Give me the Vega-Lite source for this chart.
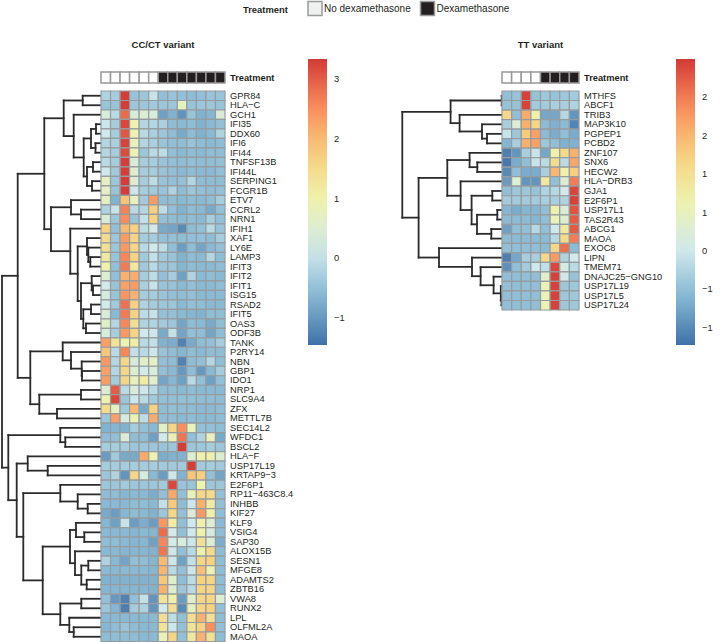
{"$schema":"https://vega.github.io/schema/vega-lite/v6.json","padding":0,"background":"white","spacing":0,"bounds":"flush","config":{"font":"Liberation Sans","view":{"stroke":null},"axis":{"labelColor":"#231f20","labelFontSize":9.3,"ticks":false,"domain":false,"grid":false,"title":null,"labelPadding":4.5,"labelOverlap":false,"labelBound":false},"legend":{"labelColor":"#231f20","titleColor":"#231f20"},"title":{"color":"#231f20","fontSize":9.5,"fontWeight":"bold","anchor":"middle","offset":22}},
"datasets":{"annL":[{"s":1,"a":"Treatment","t":"No"},{"s":2,"a":"Treatment","t":"No"},{"s":3,"a":"Treatment","t":"No"},{"s":4,"a":"Treatment","t":"No"},{"s":5,"a":"Treatment","t":"No"},{"s":6,"a":"Treatment","t":"No"},{"s":7,"a":"Treatment","t":"Dex"},{"s":8,"a":"Treatment","t":"Dex"},{"s":9,"a":"Treatment","t":"Dex"},{"s":10,"a":"Treatment","t":"Dex"},{"s":11,"a":"Treatment","t":"Dex"},{"s":12,"a":"Treatment","t":"Dex"},{"s":13,"a":"Treatment","t":"Dex"}],"annR":[{"s":1,"a":"Treatment","t":"No"},{"s":2,"a":"Treatment","t":"No"},{"s":3,"a":"Treatment","t":"No"},{"s":4,"a":"Treatment","t":"No"},{"s":5,"a":"Treatment","t":"Dex"},{"s":6,"a":"Treatment","t":"Dex"},{"s":7,"a":"Treatment","t":"Dex"},{"s":8,"a":"Treatment","t":"Dex"}],"blank":[{}]},
"vconcat":[
{"width":721,"height":71.5,"data":{"values":[{"t":"No dexamethasone"},{"t":"Dexamethasone"}]},"mark":{"type":"point","shape":"square","filled":true,"size":0,"opacity":1},"encoding":{"color":{"field":"t","type":"nominal","sort":null,"scale":{"domain":["No dexamethasone","Dexamethasone"],"range":["#eef1f0","#231f20"]},"legend":{"orient":"none","legendX":242,"legendY":0.5,"title":"Treatment","titleOrient":"left","titleFontSize":9.4,"titleFontWeight":"bold","titlePadding":19,"direction":"horizontal","columns":2,"columnPadding":6.5,"symbolType":"square","symbolSize":196,"symbolOpacity":1,"symbolStrokeWidth":1.5,"symbolStrokeColor":"#9a9a9a","labelFontSize":10,"labelOffset":1,"encoding":{"symbols":{"update":{"stroke":{"value":"#9a9a9a"},"strokeWidth":{"value":1.5},"opacity":{"value":1}}}}}}}},
{"columns":5,"spacing":{"row":8,"column":0},"bounds":"flush","align":"each","concat":[
{"width":100,"height":11,"data":{"name":"blank"},"mark":{"type":"rule","opacity":0},"encoding":{}},
{"width":124,"height":11,"title":"CC/CT variant","data":{"name":"annL"},"mark":{"type":"rect","stroke":"#999","strokeWidth":1.5},"encoding":{"x":{"field":"s","type":"ordinal","axis":null,"scale":{"padding":0}},"y":{"field":"a","type":"nominal","scale":{"padding":0},"axis":{"orient":"right","labelFontWeight":"bold"}},"fill":{"field":"t","type":"nominal","scale":{"domain":["No","Dex"],"range":["#ffffff","#231f20"]},"legend":null}}},
{"width":167,"height":11,"data":{"name":"blank"},"mark":{"type":"rule","opacity":0},"encoding":{}},
{"width":110,"height":11,"data":{"name":"blank"},"mark":{"type":"rule","opacity":0},"encoding":{}},
{"width":77,"height":11,"title":"TT variant","data":{"name":"annR"},"mark":{"type":"rect","stroke":"#999","strokeWidth":1.5},"encoding":{"x":{"field":"s","type":"ordinal","axis":null,"scale":{"padding":0}},"y":{"field":"a","type":"nominal","scale":{"padding":0},"axis":{"orient":"right","labelFontWeight":"bold"}},"fill":{"field":"t","type":"nominal","scale":{"domain":["No","Dex"],"range":["#ffffff","#231f20"]},"legend":null}}},
{"width":100,"height":550.5,"data":{"values":[
{"h":18.3,"y1":0.5,"c1":0,"y2":1.5,"c2":0},{"h":5,"y1":3.5,"c1":0,"y2":4.5,"c2":0},{"h":5.5,"y1":5.5,"c1":0,"y2":6.5,"c2":0},{"h":10,"y1":4,"c1":5,"y2":6,"c2":5.5},{"h":8,"y1":7.5,"c1":0,"y2":8.5,"c2":0},{"h":9,"y1":9.5,"c1":0,"y2":10.5,"c2":0},{"h":14,"y1":8,"c1":8,"y2":10,"c2":9},{"h":17.3,"y1":5,"c1":10,"y2":9,"c2":14},{"h":27.3,"y1":2.5,"c1":0,"y2":7,"c2":17.3},{"h":37.3,"y1":1,"c1":18.3,"y2":4.75,"c2":27.3},
{"h":20,"y1":12.5,"c1":0,"y2":13.5,"c2":0},{"h":30,"y1":11.5,"c1":0,"y2":13,"c2":20},{"h":10.7,"y1":17.5,"c1":0,"y2":18.5,"c2":0},{"h":12.7,"y1":16.5,"c1":0,"y2":18,"c2":10.7},{"h":14,"y1":15.5,"c1":0,"y2":17.25,"c2":12.7},{"h":8,"y1":20.5,"c1":0,"y2":21.5,"c2":0},{"h":9.3,"y1":19.5,"c1":0,"y2":21,"c2":8},{"h":10,"y1":22.5,"c1":0,"y2":23.5,"c2":0},{"h":15,"y1":24.5,"c1":0,"y2":25.5,"c2":0},{"h":17.7,"y1":23,"c1":10,"y2":25,"c2":15},{"h":20,"y1":20.25,"c1":9.3,"y2":24,"c2":17.7},{"h":23.3,"y1":16.375,"c1":14,"y2":22.125,"c2":20},{"h":30.7,"y1":14.5,"c1":0,"y2":19.25,"c2":23.3},{"h":50,"y1":12.25,"c1":30,"y2":16.875,"c2":30.7},{"h":56.7,"y1":2.875,"c1":37.3,"y2":14.56,"c2":50},
{"h":19,"y1":29.5,"c1":0,"y2":30.5,"c2":0},{"h":19.3,"y1":28.5,"c1":0,"y2":30,"c2":19},{"h":30,"y1":27.5,"c1":0,"y2":29.25,"c2":19.3},{"h":38.3,"y1":26.5,"c1":0,"y2":28.375,"c2":30},{"h":20,"y1":31.5,"c1":0,"y2":32.5,"c2":0},{"h":44,"y1":33.5,"c1":0,"y2":34.5,"c2":0},{"h":61.7,"y1":32,"c1":20,"y2":34,"c2":44},{"h":70.7,"y1":27.44,"c1":38.3,"y2":33,"c2":61.7},{"h":83.3,"y1":8.72,"c1":56.7,"y2":30.22,"c2":70.7},
{"h":35.7,"y1":36.5,"c1":0,"y2":37.5,"c2":0},{"h":40.7,"y1":35.5,"c1":0,"y2":37,"c2":35.7},{"h":53.3,"y1":39.5,"c1":0,"y2":40.5,"c2":0},{"h":73.3,"y1":38.5,"c1":0,"y2":40,"c2":53.3},{"h":13.3,"y1":43.5,"c1":0,"y2":44.5,"c2":0},{"h":23.3,"y1":42.5,"c1":0,"y2":44,"c2":13.3},{"h":40.7,"y1":41.5,"c1":0,"y2":43.25,"c2":23.3},{"h":16.7,"y1":46.5,"c1":0,"y2":47.5,"c2":0},{"h":25,"y1":45.5,"c1":0,"y2":47,"c2":16.7},{"h":12.7,"y1":49.5,"c1":0,"y2":50.5,"c2":0},{"h":14.3,"y1":51.5,"c1":0,"y2":52.5,"c2":0},{"h":19.7,"y1":50,"c1":12.7,"y2":52,"c2":14.3},{"h":26,"y1":48.5,"c1":0,"y2":51,"c2":19.7},{"h":31,"y1":46.25,"c1":25,"y2":49.75,"c2":26},{"h":19.7,"y1":53.5,"c1":0,"y2":54.5,"c2":0},{"h":27.3,"y1":56.5,"c1":0,"y2":57.5,"c2":0},{"h":31.7,"y1":55.5,"c1":0,"y2":57,"c2":27.3},{"h":40.7,"y1":54,"c1":19.7,"y2":56.25,"c2":31.7},{"h":58.3,"y1":48,"c1":31,"y2":55.125,"c2":40.7},{"h":77.7,"y1":42.375,"c1":40.7,"y2":51.56,"c2":58.3},{"h":84.3,"y1":39.25,"c1":73.3,"y2":46.97,"c2":77.7},{"h":92.7,"y1":36.25,"c1":40.7,"y2":43.11,"c2":84.3},{"h":99,"y1":19.47,"c1":83.3,"y2":39.68,"c2":92.7}]},
"layer":[{"mark":{"type":"rule","color":"#2b2a2c","strokeWidth":1.8,"strokeCap":"square"},"encoding":{"x":{"field":"h","type":"quantitative","scale":{"domain":[100,0]},"axis":null},"y":{"field":"y1","type":"quantitative","scale":{"domain":[58,0]},"axis":null},"y2":{"field":"y2"}}},{"mark":{"type":"rule","color":"#2b2a2c","strokeWidth":1.8,"strokeCap":"square"},"encoding":{"x":{"field":"h","type":"quantitative","scale":{"domain":[100,0]},"axis":null},"x2":{"field":"c1"},"y":{"field":"y1","type":"quantitative","scale":{"domain":[58,0]},"axis":null}}},{"mark":{"type":"rule","color":"#2b2a2c","strokeWidth":1.8,"strokeCap":"square"},"encoding":{"x":{"field":"h","type":"quantitative","scale":{"domain":[100,0]},"axis":null},"x2":{"field":"c2"},"y":{"field":"y2","type":"quantitative","scale":{"domain":[58,0]},"axis":null}}}]},
{"width":124,"height":550.5,"data":{"values":[
{"g":"GPR84","s":1,"v":-0.2},{"g":"GPR84","s":2,"v":-0.3},{"g":"GPR84","s":3,"v":3.3},{"g":"GPR84","s":4,"v":-0.45},{"g":"GPR84","s":5,"v":-0.4},{"g":"GPR84","s":6,"v":0.05},{"g":"GPR84","s":7,"v":-0.5},{"g":"GPR84","s":8,"v":-0.45},{"g":"GPR84","s":9,"v":-0.5},{"g":"GPR84","s":10,"v":-0.55},{"g":"GPR84","s":11,"v":-0.5},{"g":"GPR84","s":12,"v":-0.45},{"g":"GPR84","s":13,"v":-0.45},
{"g":"HLA−C","s":1,"v":-0.45},{"g":"HLA−C","s":2,"v":-0.45},{"g":"HLA−C","s":3,"v":3.3},{"g":"HLA−C","s":4,"v":-0.4},{"g":"HLA−C","s":5,"v":-0.4},{"g":"HLA−C","s":6,"v":-0.35},{"g":"HLA−C","s":7,"v":-0.4},{"g":"HLA−C","s":8,"v":-0.4},{"g":"HLA−C","s":9,"v":0.7},{"g":"HLA−C","s":10,"v":-0.45},{"g":"HLA−C","s":11,"v":-0.4},{"g":"HLA−C","s":12,"v":-0.4},{"g":"HLA−C","s":13,"v":-0.45},
{"g":"GCH1","s":1,"v":0.35},{"g":"GCH1","s":2,"v":-0.1},{"g":"GCH1","s":3,"v":2.85},{"g":"GCH1","s":4,"v":0.35},{"g":"GCH1","s":5,"v":0.45},{"g":"GCH1","s":6,"v":0.35},{"g":"GCH1","s":7,"v":-0.9},{"g":"GCH1","s":8,"v":-0.7},{"g":"GCH1","s":9,"v":-1.05},{"g":"GCH1","s":10,"v":-0.45},{"g":"GCH1","s":11,"v":-0.7},{"g":"GCH1","s":12,"v":-0.65},{"g":"GCH1","s":13,"v":0.4},
{"g":"IFI35","s":1,"v":0.1},{"g":"IFI35","s":2,"v":-0.3},{"g":"IFI35","s":3,"v":3.2},{"g":"IFI35","s":4,"v":0.9},{"g":"IFI35","s":5,"v":-0.15},{"g":"IFI35","s":6,"v":-0.15},{"g":"IFI35","s":7,"v":-0.25},{"g":"IFI35","s":8,"v":-0.55},{"g":"IFI35","s":9,"v":-0.6},{"g":"IFI35","s":10,"v":-0.55},{"g":"IFI35","s":11,"v":-0.7},{"g":"IFI35","s":12,"v":-0.6},{"g":"IFI35","s":13,"v":-0.5},
{"g":"DDX60","s":1,"v":0.15},{"g":"DDX60","s":2,"v":-0.3},{"g":"DDX60","s":3,"v":3.05},{"g":"DDX60","s":4,"v":0.9},{"g":"DDX60","s":5,"v":-0.1},{"g":"DDX60","s":6,"v":-0.25},{"g":"DDX60","s":7,"v":-0.4},{"g":"DDX60","s":8,"v":-0.55},{"g":"DDX60","s":9,"v":-0.8},{"g":"DDX60","s":10,"v":-0.55},{"g":"DDX60","s":11,"v":-0.7},{"g":"DDX60","s":12,"v":-0.6},{"g":"DDX60","s":13,"v":-0.2},
{"g":"IFI6","s":1,"v":-0.15},{"g":"IFI6","s":2,"v":-0.25},{"g":"IFI6","s":3,"v":3.25},{"g":"IFI6","s":4,"v":0.75},{"g":"IFI6","s":5,"v":-0.15},{"g":"IFI6","s":6,"v":-0.25},{"g":"IFI6","s":7,"v":-0.45},{"g":"IFI6","s":8,"v":-0.5},{"g":"IFI6","s":9,"v":-0.55},{"g":"IFI6","s":10,"v":-0.45},{"g":"IFI6","s":11,"v":-0.55},{"g":"IFI6","s":12,"v":-0.6},{"g":"IFI6","s":13,"v":-0.55},
{"g":"IFI44","s":1,"v":-0.15},{"g":"IFI44","s":2,"v":-0.3},{"g":"IFI44","s":3,"v":3.15},{"g":"IFI44","s":4,"v":0.85},{"g":"IFI44","s":5,"v":-0.4},{"g":"IFI44","s":6,"v":-0.1},{"g":"IFI44","s":7,"v":-0.05},{"g":"IFI44","s":8,"v":-0.5},{"g":"IFI44","s":9,"v":-0.6},{"g":"IFI44","s":10,"v":-0.55},{"g":"IFI44","s":11,"v":-0.6},{"g":"IFI44","s":12,"v":-0.55},{"g":"IFI44","s":13,"v":-0.55},
{"g":"TNFSF13B","s":1,"v":-0.1},{"g":"TNFSF13B","s":2,"v":-0.3},{"g":"TNFSF13B","s":3,"v":3.3},{"g":"TNFSF13B","s":4,"v":0.4},{"g":"TNFSF13B","s":5,"v":-0.3},{"g":"TNFSF13B","s":6,"v":-0.3},{"g":"TNFSF13B","s":7,"v":-0.45},{"g":"TNFSF13B","s":8,"v":-0.5},{"g":"TNFSF13B","s":9,"v":-0.55},{"g":"TNFSF13B","s":10,"v":-0.5},{"g":"TNFSF13B","s":11,"v":-0.55},{"g":"TNFSF13B","s":12,"v":-0.55},{"g":"TNFSF13B","s":13,"v":-0.5},
{"g":"IFI44L","s":1,"v":0.15},{"g":"IFI44L","s":2,"v":-0.35},{"g":"IFI44L","s":3,"v":3.3},{"g":"IFI44L","s":4,"v":0.5},{"g":"IFI44L","s":5,"v":-0.3},{"g":"IFI44L","s":6,"v":-0.3},{"g":"IFI44L","s":7,"v":-0.45},{"g":"IFI44L","s":8,"v":-0.5},{"g":"IFI44L","s":9,"v":-0.6},{"g":"IFI44L","s":10,"v":-0.55},{"g":"IFI44L","s":11,"v":-0.6},{"g":"IFI44L","s":12,"v":-0.6},{"g":"IFI44L","s":13,"v":-0.5},
{"g":"SERPING1","s":1,"v":0.7},{"g":"SERPING1","s":2,"v":-0.4},{"g":"SERPING1","s":3,"v":3.3},{"g":"SERPING1","s":4,"v":0.5},{"g":"SERPING1","s":5,"v":-0.3},{"g":"SERPING1","s":6,"v":-0.05},{"g":"SERPING1","s":7,"v":-0.45},{"g":"SERPING1","s":8,"v":-0.5},{"g":"SERPING1","s":9,"v":-0.5},{"g":"SERPING1","s":10,"v":-0.15},{"g":"SERPING1","s":11,"v":-0.55},{"g":"SERPING1","s":12,"v":-0.55},{"g":"SERPING1","s":13,"v":-0.55},
{"g":"FCGR1B","s":1,"v":0.65},{"g":"FCGR1B","s":2,"v":-0.45},{"g":"FCGR1B","s":3,"v":3.3},{"g":"FCGR1B","s":4,"v":0.1},{"g":"FCGR1B","s":5,"v":-0.3},{"g":"FCGR1B","s":6,"v":-0.35},{"g":"FCGR1B","s":7,"v":-0.45},{"g":"FCGR1B","s":8,"v":-0.2},{"g":"FCGR1B","s":9,"v":-0.55},{"g":"FCGR1B","s":10,"v":-0.4},{"g":"FCGR1B","s":11,"v":-0.5},{"g":"FCGR1B","s":12,"v":-0.55},{"g":"FCGR1B","s":13,"v":-0.5},
{"g":"ETV7","s":1,"v":0.7},{"g":"ETV7","s":2,"v":-0.7},{"g":"ETV7","s":3,"v":1.9},{"g":"ETV7","s":4,"v":0.75},{"g":"ETV7","s":5,"v":-0.35},{"g":"ETV7","s":6,"v":2.35},{"g":"ETV7","s":7,"v":-0.55},{"g":"ETV7","s":8,"v":-0.55},{"g":"ETV7","s":9,"v":-0.6},{"g":"ETV7","s":10,"v":-0.55},{"g":"ETV7","s":11,"v":-0.6},{"g":"ETV7","s":12,"v":-0.55},{"g":"ETV7","s":13,"v":-0.3},
{"g":"CCRL2","s":1,"v":-0.2},{"g":"CCRL2","s":2,"v":0.05},{"g":"CCRL2","s":3,"v":2.65},{"g":"CCRL2","s":4,"v":-0.1},{"g":"CCRL2","s":5,"v":-0.15},{"g":"CCRL2","s":6,"v":1.75},{"g":"CCRL2","s":7,"v":-0.05},{"g":"CCRL2","s":8,"v":-0.5},{"g":"CCRL2","s":9,"v":-0.7},{"g":"CCRL2","s":10,"v":-0.55},{"g":"CCRL2","s":11,"v":-0.6},{"g":"CCRL2","s":12,"v":-0.8},{"g":"CCRL2","s":13,"v":-0.5},
{"g":"NRN1","s":1,"v":0.4},{"g":"NRN1","s":2,"v":-0.4},{"g":"NRN1","s":3,"v":2.55},{"g":"NRN1","s":4,"v":-0.45},{"g":"NRN1","s":5,"v":0},{"g":"NRN1","s":6,"v":1.7},{"g":"NRN1","s":7,"v":-0.5},{"g":"NRN1","s":8,"v":-0.55},{"g":"NRN1","s":9,"v":-0.6},{"g":"NRN1","s":10,"v":-0.55},{"g":"NRN1","s":11,"v":-0.6},{"g":"NRN1","s":12,"v":-0.3},{"g":"NRN1","s":13,"v":-0.5},
{"g":"IFIH1","s":1,"v":1.7},{"g":"IFIH1","s":2,"v":-0.5},{"g":"IFIH1","s":3,"v":2},{"g":"IFIH1","s":4,"v":1.7},{"g":"IFIH1","s":5,"v":-0.05},{"g":"IFIH1","s":6,"v":0.2},{"g":"IFIH1","s":7,"v":-0.8},{"g":"IFIH1","s":8,"v":-0.85},{"g":"IFIH1","s":9,"v":-1.15},{"g":"IFIH1","s":10,"v":-0.55},{"g":"IFIH1","s":11,"v":-0.5},{"g":"IFIH1","s":12,"v":-0.1},{"g":"IFIH1","s":13,"v":-0.45},
{"g":"XAF1","s":1,"v":1.5},{"g":"XAF1","s":2,"v":-0.4},{"g":"XAF1","s":3,"v":2.35},{"g":"XAF1","s":4,"v":1.6},{"g":"XAF1","s":5,"v":-0.3},{"g":"XAF1","s":6,"v":-0.3},{"g":"XAF1","s":7,"v":-0.5},{"g":"XAF1","s":8,"v":-0.5},{"g":"XAF1","s":9,"v":-0.55},{"g":"XAF1","s":10,"v":-0.5},{"g":"XAF1","s":11,"v":-0.5},{"g":"XAF1","s":12,"v":-0.55},{"g":"XAF1","s":13,"v":-0.3},
{"g":"LY6E","s":1,"v":1.4},{"g":"LY6E","s":2,"v":-0.4},{"g":"LY6E","s":3,"v":2.4},{"g":"LY6E","s":4,"v":1.6},{"g":"LY6E","s":5,"v":-0.1},{"g":"LY6E","s":6,"v":0.15},{"g":"LY6E","s":7,"v":-0.05},{"g":"LY6E","s":8,"v":-0.5},{"g":"LY6E","s":9,"v":-0.95},{"g":"LY6E","s":10,"v":-0.55},{"g":"LY6E","s":11,"v":-0.85},{"g":"LY6E","s":12,"v":-0.6},{"g":"LY6E","s":13,"v":-0.5},
{"g":"LAMP3","s":1,"v":1.2},{"g":"LAMP3","s":2,"v":-0.45},{"g":"LAMP3","s":3,"v":2.6},{"g":"LAMP3","s":4,"v":1.7},{"g":"LAMP3","s":5,"v":-0.35},{"g":"LAMP3","s":6,"v":0},{"g":"LAMP3","s":7,"v":-0.35},{"g":"LAMP3","s":8,"v":-0.45},{"g":"LAMP3","s":9,"v":-0.7},{"g":"LAMP3","s":10,"v":-0.55},{"g":"LAMP3","s":11,"v":-0.6},{"g":"LAMP3","s":12,"v":-0.15},{"g":"LAMP3","s":13,"v":-0.55},
{"g":"IFIT3","s":1,"v":1},{"g":"IFIT3","s":2,"v":-0.5},{"g":"IFIT3","s":3,"v":2.7},{"g":"IFIT3","s":4,"v":1.2},{"g":"IFIT3","s":5,"v":-0.35},{"g":"IFIT3","s":6,"v":-0.1},{"g":"IFIT3","s":7,"v":-0.4},{"g":"IFIT3","s":8,"v":-0.4},{"g":"IFIT3","s":9,"v":-0.65},{"g":"IFIT3","s":10,"v":-0.55},{"g":"IFIT3","s":11,"v":-0.6},{"g":"IFIT3","s":12,"v":-0.6},{"g":"IFIT3","s":13,"v":-0.55},
{"g":"IFIT2","s":1,"v":0.5},{"g":"IFIT2","s":2,"v":-0.5},{"g":"IFIT2","s":3,"v":2.1},{"g":"IFIT2","s":4,"v":2.15},{"g":"IFIT2","s":5,"v":-0.3},{"g":"IFIT2","s":6,"v":-0.05},{"g":"IFIT2","s":7,"v":-0.5},{"g":"IFIT2","s":8,"v":-0.3},{"g":"IFIT2","s":9,"v":-0.9},{"g":"IFIT2","s":10,"v":-0.2},{"g":"IFIT2","s":11,"v":-0.6},{"g":"IFIT2","s":12,"v":-0.55},{"g":"IFIT2","s":13,"v":-0.6},
{"g":"IFIT1","s":1,"v":0.2},{"g":"IFIT1","s":2,"v":-0.45},{"g":"IFIT1","s":3,"v":2.3},{"g":"IFIT1","s":4,"v":2.35},{"g":"IFIT1","s":5,"v":-0.25},{"g":"IFIT1","s":6,"v":0.05},{"g":"IFIT1","s":7,"v":-0.45},{"g":"IFIT1","s":8,"v":-0.45},{"g":"IFIT1","s":9,"v":-0.6},{"g":"IFIT1","s":10,"v":-0.5},{"g":"IFIT1","s":11,"v":-0.6},{"g":"IFIT1","s":12,"v":-0.6},{"g":"IFIT1","s":13,"v":-0.55},
{"g":"ISG15","s":1,"v":0.3},{"g":"ISG15","s":2,"v":-0.45},{"g":"ISG15","s":3,"v":2.45},{"g":"ISG15","s":4,"v":2.1},{"g":"ISG15","s":5,"v":-0.3},{"g":"ISG15","s":6,"v":-0.3},{"g":"ISG15","s":7,"v":-0.45},{"g":"ISG15","s":8,"v":-0.5},{"g":"ISG15","s":9,"v":-0.55},{"g":"ISG15","s":10,"v":-0.5},{"g":"ISG15","s":11,"v":-0.6},{"g":"ISG15","s":12,"v":-0.6},{"g":"ISG15","s":13,"v":-0.6},
{"g":"RSAD2","s":1,"v":0.2},{"g":"RSAD2","s":2,"v":-0.35},{"g":"RSAD2","s":3,"v":2.8},{"g":"RSAD2","s":4,"v":1.7},{"g":"RSAD2","s":5,"v":-0.2},{"g":"RSAD2","s":6,"v":-0.3},{"g":"RSAD2","s":7,"v":-0.4},{"g":"RSAD2","s":8,"v":-0.4},{"g":"RSAD2","s":9,"v":-0.6},{"g":"RSAD2","s":10,"v":-0.5},{"g":"RSAD2","s":11,"v":-0.55},{"g":"RSAD2","s":12,"v":-0.6},{"g":"RSAD2","s":13,"v":-0.6},
{"g":"IFIT5","s":1,"v":0.4},{"g":"IFIT5","s":2,"v":-0.6},{"g":"IFIT5","s":3,"v":2.7},{"g":"IFIT5","s":4,"v":1.7},{"g":"IFIT5","s":5,"v":-0.05},{"g":"IFIT5","s":6,"v":0.05},{"g":"IFIT5","s":7,"v":-0.5},{"g":"IFIT5","s":8,"v":-0.5},{"g":"IFIT5","s":9,"v":-0.6},{"g":"IFIT5","s":10,"v":-0.65},{"g":"IFIT5","s":11,"v":-0.7},{"g":"IFIT5","s":12,"v":-0.55},{"g":"IFIT5","s":13,"v":-0.55},
{"g":"OAS3","s":1,"v":0.6},{"g":"OAS3","s":2,"v":-0.15},{"g":"OAS3","s":3,"v":2.6},{"g":"OAS3","s":4,"v":1.4},{"g":"OAS3","s":5,"v":-0.2},{"g":"OAS3","s":6,"v":-0.2},{"g":"OAS3","s":7,"v":-0.35},{"g":"OAS3","s":8,"v":-0.4},{"g":"OAS3","s":9,"v":-0.85},{"g":"OAS3","s":10,"v":-0.55},{"g":"OAS3","s":11,"v":-0.6},{"g":"OAS3","s":12,"v":-0.8},{"g":"OAS3","s":13,"v":-0.55},
{"g":"ODF3B","s":1,"v":0.35},{"g":"ODF3B","s":2,"v":-0.3},{"g":"ODF3B","s":3,"v":2.4},{"g":"ODF3B","s":4,"v":1.65},{"g":"ODF3B","s":5,"v":0.15},{"g":"ODF3B","s":6,"v":0.1},{"g":"ODF3B","s":7,"v":-0.8},{"g":"ODF3B","s":8,"v":0},{"g":"ODF3B","s":9,"v":-0.85},{"g":"ODF3B","s":10,"v":-0.5},{"g":"ODF3B","s":11,"v":-0.55},{"g":"ODF3B","s":12,"v":-0.85},{"g":"ODF3B","s":13,"v":-0.55},
{"g":"TANK","s":1,"v":2.3},{"g":"TANK","s":2,"v":1.3},{"g":"TANK","s":3,"v":0.9},{"g":"TANK","s":4,"v":1.1},{"g":"TANK","s":5,"v":-0.1},{"g":"TANK","s":6,"v":0},{"g":"TANK","s":7,"v":-0.7},{"g":"TANK","s":8,"v":-0.75},{"g":"TANK","s":9,"v":-1.25},{"g":"TANK","s":10,"v":-0.8},{"g":"TANK","s":11,"v":-0.55},{"g":"TANK","s":12,"v":-0.5},{"g":"TANK","s":13,"v":-0.3},
{"g":"P2RY14","s":1,"v":1.85},{"g":"P2RY14","s":2,"v":-0.1},{"g":"P2RY14","s":3,"v":2.6},{"g":"P2RY14","s":4,"v":0},{"g":"P2RY14","s":5,"v":-0.1},{"g":"P2RY14","s":6,"v":0.1},{"g":"P2RY14","s":7,"v":-0.45},{"g":"P2RY14","s":8,"v":-0.55},{"g":"P2RY14","s":9,"v":-0.65},{"g":"P2RY14","s":10,"v":-0.55},{"g":"P2RY14","s":11,"v":-0.6},{"g":"P2RY14","s":12,"v":-0.55},{"g":"P2RY14","s":13,"v":-0.55},
{"g":"NBN","s":1,"v":2.4},{"g":"NBN","s":2,"v":-0.15},{"g":"NBN","s":3,"v":1.6},{"g":"NBN","s":4,"v":0.3},{"g":"NBN","s":5,"v":0.6},{"g":"NBN","s":6,"v":0.65},{"g":"NBN","s":7,"v":-0.5},{"g":"NBN","s":8,"v":-0.55},{"g":"NBN","s":9,"v":-1.25},{"g":"NBN","s":10,"v":-0.55},{"g":"NBN","s":11,"v":-0.5},{"g":"NBN","s":12,"v":-0.15},{"g":"NBN","s":13,"v":-0.55},
{"g":"GBP1","s":1,"v":2.3},{"g":"GBP1","s":2,"v":-0.15},{"g":"GBP1","s":3,"v":1.6},{"g":"GBP1","s":4,"v":0.5},{"g":"GBP1","s":5,"v":0.2},{"g":"GBP1","s":6,"v":0.35},{"g":"GBP1","s":7,"v":-0.5},{"g":"GBP1","s":8,"v":-0.6},{"g":"GBP1","s":9,"v":-1},{"g":"GBP1","s":10,"v":-0.55},{"g":"GBP1","s":11,"v":-1},{"g":"GBP1","s":12,"v":-0.6},{"g":"GBP1","s":13,"v":-0.3},
{"g":"IDO1","s":1,"v":2.35},{"g":"IDO1","s":2,"v":-0.3},{"g":"IDO1","s":3,"v":1.6},{"g":"IDO1","s":4,"v":0.75},{"g":"IDO1","s":5,"v":1.1},{"g":"IDO1","s":6,"v":0.55},{"g":"IDO1","s":7,"v":-0.85},{"g":"IDO1","s":8,"v":-0.65},{"g":"IDO1","s":9,"v":-0.9},{"g":"IDO1","s":10,"v":-0.1},{"g":"IDO1","s":11,"v":-0.5},{"g":"IDO1","s":12,"v":-0.9},{"g":"IDO1","s":13,"v":-0.5},
{"g":"NRP1","s":1,"v":0.5},{"g":"NRP1","s":2,"v":3},{"g":"NRP1","s":3,"v":-0.1},{"g":"NRP1","s":4,"v":0.35},{"g":"NRP1","s":5,"v":0.1},{"g":"NRP1","s":6,"v":-0.1},{"g":"NRP1","s":7,"v":-0.55},{"g":"NRP1","s":8,"v":-0.55},{"g":"NRP1","s":9,"v":-0.6},{"g":"NRP1","s":10,"v":-0.55},{"g":"NRP1","s":11,"v":-0.6},{"g":"NRP1","s":12,"v":-0.6},{"g":"NRP1","s":13,"v":-0.6},
{"g":"SLC9A4","s":1,"v":0.9},{"g":"SLC9A4","s":2,"v":3.2},{"g":"SLC9A4","s":3,"v":-0.4},{"g":"SLC9A4","s":4,"v":0.1},{"g":"SLC9A4","s":5,"v":-0.1},{"g":"SLC9A4","s":6,"v":-0.35},{"g":"SLC9A4","s":7,"v":-0.5},{"g":"SLC9A4","s":8,"v":-0.5},{"g":"SLC9A4","s":9,"v":-0.5},{"g":"SLC9A4","s":10,"v":-0.5},{"g":"SLC9A4","s":11,"v":-0.55},{"g":"SLC9A4","s":12,"v":-0.55},{"g":"SLC9A4","s":13,"v":-0.55},
{"g":"ZFX","s":1,"v":1.5},{"g":"ZFX","s":2,"v":0.7},{"g":"ZFX","s":3,"v":-0.35},{"g":"ZFX","s":4,"v":2},{"g":"ZFX","s":5,"v":-0.8},{"g":"ZFX","s":6,"v":1.7},{"g":"ZFX","s":7,"v":-0.55},{"g":"ZFX","s":8,"v":-0.5},{"g":"ZFX","s":9,"v":-0.55},{"g":"ZFX","s":10,"v":-0.55},{"g":"ZFX","s":11,"v":-0.6},{"g":"ZFX","s":12,"v":-0.6},{"g":"ZFX","s":13,"v":-0.55},
{"g":"METTL7B","s":1,"v":-0.4},{"g":"METTL7B","s":2,"v":2.3},{"g":"METTL7B","s":3,"v":0.3},{"g":"METTL7B","s":4,"v":0.9},{"g":"METTL7B","s":5,"v":-0.05},{"g":"METTL7B","s":6,"v":2.15},{"g":"METTL7B","s":7,"v":-0.55},{"g":"METTL7B","s":8,"v":-0.55},{"g":"METTL7B","s":9,"v":-0.6},{"g":"METTL7B","s":10,"v":-0.55},{"g":"METTL7B","s":11,"v":-0.6},{"g":"METTL7B","s":12,"v":-0.6},{"g":"METTL7B","s":13,"v":-0.55},
{"g":"SEC14L2","s":1,"v":-0.7},{"g":"SEC14L2","s":2,"v":-0.65},{"g":"SEC14L2","s":3,"v":-0.7},{"g":"SEC14L2","s":4,"v":-0.3},{"g":"SEC14L2","s":5,"v":-0.5},{"g":"SEC14L2","s":6,"v":-0.6},{"g":"SEC14L2","s":7,"v":0.65},{"g":"SEC14L2","s":8,"v":1.6},{"g":"SEC14L2","s":9,"v":2.5},{"g":"SEC14L2","s":10,"v":0.85},{"g":"SEC14L2","s":11,"v":-0.5},{"g":"SEC14L2","s":12,"v":-0.5},{"g":"SEC14L2","s":13,"v":-0.55},
{"g":"WFDC1","s":1,"v":-0.55},{"g":"WFDC1","s":2,"v":-0.5},{"g":"WFDC1","s":3,"v":0.4},{"g":"WFDC1","s":4,"v":-0.55},{"g":"WFDC1","s":5,"v":-0.55},{"g":"WFDC1","s":6,"v":-0.9},{"g":"WFDC1","s":7,"v":0.2},{"g":"WFDC1","s":8,"v":0.8},{"g":"WFDC1","s":9,"v":2.75},{"g":"WFDC1","s":10,"v":-0.5},{"g":"WFDC1","s":11,"v":-0.2},{"g":"WFDC1","s":12,"v":0.8},{"g":"WFDC1","s":13,"v":-0.8},
{"g":"BSCL2","s":1,"v":-0.3},{"g":"BSCL2","s":2,"v":-0.3},{"g":"BSCL2","s":3,"v":-0.3},{"g":"BSCL2","s":4,"v":-0.4},{"g":"BSCL2","s":5,"v":-0.4},{"g":"BSCL2","s":6,"v":-0.4},{"g":"BSCL2","s":7,"v":-0.45},{"g":"BSCL2","s":8,"v":-0.4},{"g":"BSCL2","s":9,"v":3.3},{"g":"BSCL2","s":10,"v":-0.4},{"g":"BSCL2","s":11,"v":-0.4},{"g":"BSCL2","s":12,"v":-0.3},{"g":"BSCL2","s":13,"v":-0.4},
{"g":"HLA−F","s":1,"v":-0.95},{"g":"HLA−F","s":2,"v":-0.35},{"g":"HLA−F","s":3,"v":-0.8},{"g":"HLA−F","s":4,"v":-0.8},{"g":"HLA−F","s":5,"v":2.2},{"g":"HLA−F","s":6,"v":0.9},{"g":"HLA−F","s":7,"v":-0.75},{"g":"HLA−F","s":8,"v":-0.7},{"g":"HLA−F","s":9,"v":-0.7},{"g":"HLA−F","s":10,"v":0.5},{"g":"HLA−F","s":11,"v":1},{"g":"HLA−F","s":12,"v":1},{"g":"HLA−F","s":13,"v":0.5},
{"g":"USP17L19","s":1,"v":-0.3},{"g":"USP17L19","s":2,"v":-0.3},{"g":"USP17L19","s":3,"v":-0.3},{"g":"USP17L19","s":4,"v":-0.3},{"g":"USP17L19","s":5,"v":-0.3},{"g":"USP17L19","s":6,"v":-0.3},{"g":"USP17L19","s":7,"v":-0.35},{"g":"USP17L19","s":8,"v":-0.35},{"g":"USP17L19","s":9,"v":-0.35},{"g":"USP17L19","s":10,"v":3.3},{"g":"USP17L19","s":11,"v":-0.35},{"g":"USP17L19","s":12,"v":-0.3},{"g":"USP17L19","s":13,"v":-0.35},
{"g":"KRTAP9−3","s":1,"v":-0.4},{"g":"KRTAP9−3","s":2,"v":-0.2},{"g":"KRTAP9−3","s":3,"v":-1.05},{"g":"KRTAP9−3","s":4,"v":1.6},{"g":"KRTAP9−3","s":5,"v":0.3},{"g":"KRTAP9−3","s":6,"v":-0.6},{"g":"KRTAP9−3","s":7,"v":-0.95},{"g":"KRTAP9−3","s":8,"v":0.1},{"g":"KRTAP9−3","s":9,"v":-0.7},{"g":"KRTAP9−3","s":10,"v":1.85},{"g":"KRTAP9−3","s":11,"v":1.75},{"g":"KRTAP9−3","s":12,"v":-0.5},{"g":"KRTAP9−3","s":13,"v":-0.85},
{"g":"E2F6P1","s":1,"v":-0.4},{"g":"E2F6P1","s":2,"v":-0.4},{"g":"E2F6P1","s":3,"v":-0.35},{"g":"E2F6P1","s":4,"v":-0.4},{"g":"E2F6P1","s":5,"v":-0.4},{"g":"E2F6P1","s":6,"v":-0.4},{"g":"E2F6P1","s":7,"v":-0.35},{"g":"E2F6P1","s":8,"v":3.2},{"g":"E2F6P1","s":9,"v":-0.45},{"g":"E2F6P1","s":10,"v":-0.45},{"g":"E2F6P1","s":11,"v":0.95},{"g":"E2F6P1","s":12,"v":-0.4},{"g":"E2F6P1","s":13,"v":-0.4},
{"g":"RP11−463C8.4","s":1,"v":-0.55},{"g":"RP11−463C8.4","s":2,"v":-0.55},{"g":"RP11−463C8.4","s":3,"v":-0.65},{"g":"RP11−463C8.4","s":4,"v":-0.6},{"g":"RP11−463C8.4","s":5,"v":-0.6},{"g":"RP11−463C8.4","s":6,"v":-0.75},{"g":"RP11−463C8.4","s":7,"v":-0.5},{"g":"RP11−463C8.4","s":8,"v":2.2},{"g":"RP11−463C8.4","s":9,"v":-0.5},{"g":"RP11−463C8.4","s":10,"v":0.8},{"g":"RP11−463C8.4","s":11,"v":1.6},{"g":"RP11−463C8.4","s":12,"v":1.5},{"g":"RP11−463C8.4","s":13,"v":-0.5},
{"g":"INHBB","s":1,"v":-0.6},{"g":"INHBB","s":2,"v":-0.6},{"g":"INHBB","s":3,"v":-0.6},{"g":"INHBB","s":4,"v":-0.55},{"g":"INHBB","s":5,"v":-0.55},{"g":"INHBB","s":6,"v":-0.6},{"g":"INHBB","s":7,"v":0},{"g":"INHBB","s":8,"v":1.8},{"g":"INHBB","s":9,"v":-0.55},{"g":"INHBB","s":10,"v":0.1},{"g":"INHBB","s":11,"v":2.1},{"g":"INHBB","s":12,"v":1.1},{"g":"INHBB","s":13,"v":-0.5},
{"g":"KIF27","s":1,"v":-0.8},{"g":"KIF27","s":2,"v":-0.95},{"g":"KIF27","s":3,"v":-0.65},{"g":"KIF27","s":4,"v":-0.55},{"g":"KIF27","s":5,"v":-0.6},{"g":"KIF27","s":6,"v":-0.7},{"g":"KIF27","s":7,"v":-0.4},{"g":"KIF27","s":8,"v":1.6},{"g":"KIF27","s":9,"v":-0.5},{"g":"KIF27","s":10,"v":0.4},{"g":"KIF27","s":11,"v":2.4},{"g":"KIF27","s":12,"v":1},{"g":"KIF27","s":13,"v":-0.55},
{"g":"KLF9","s":1,"v":-0.65},{"g":"KLF9","s":2,"v":-0.9},{"g":"KLF9","s":3,"v":0.05},{"g":"KLF9","s":4,"v":-0.95},{"g":"KLF9","s":5,"v":-0.75},{"g":"KLF9","s":6,"v":-0.95},{"g":"KLF9","s":7,"v":2.4},{"g":"KLF9","s":8,"v":1.1},{"g":"KLF9","s":9,"v":-0.5},{"g":"KLF9","s":10,"v":0.15},{"g":"KLF9","s":11,"v":1},{"g":"KLF9","s":12,"v":0.5},{"g":"KLF9","s":13,"v":-0.6},
{"g":"VSIG4","s":1,"v":-0.6},{"g":"VSIG4","s":2,"v":-0.6},{"g":"VSIG4","s":3,"v":-0.6},{"g":"VSIG4","s":4,"v":-0.65},{"g":"VSIG4","s":5,"v":-0.6},{"g":"VSIG4","s":6,"v":-0.65},{"g":"VSIG4","s":7,"v":2.85},{"g":"VSIG4","s":8,"v":0.2},{"g":"VSIG4","s":9,"v":-0.5},{"g":"VSIG4","s":10,"v":0.15},{"g":"VSIG4","s":11,"v":1},{"g":"VSIG4","s":12,"v":0.3},{"g":"VSIG4","s":13,"v":-0.55},
{"g":"SAP30","s":1,"v":-0.55},{"g":"SAP30","s":2,"v":-0.55},{"g":"SAP30","s":3,"v":-0.6},{"g":"SAP30","s":4,"v":-0.65},{"g":"SAP30","s":5,"v":-0.65},{"g":"SAP30","s":6,"v":-0.9},{"g":"SAP30","s":7,"v":2.6},{"g":"SAP30","s":8,"v":0.2},{"g":"SAP30","s":9,"v":0.35},{"g":"SAP30","s":10,"v":0.1},{"g":"SAP30","s":11,"v":1.4},{"g":"SAP30","s":12,"v":0.45},{"g":"SAP30","s":13,"v":-0.75},
{"g":"ALOX15B","s":1,"v":-0.6},{"g":"ALOX15B","s":2,"v":-0.6},{"g":"ALOX15B","s":3,"v":-0.65},{"g":"ALOX15B","s":4,"v":-0.65},{"g":"ALOX15B","s":5,"v":-0.65},{"g":"ALOX15B","s":6,"v":-0.7},{"g":"ALOX15B","s":7,"v":2.75},{"g":"ALOX15B","s":8,"v":0.1},{"g":"ALOX15B","s":9,"v":-0.5},{"g":"ALOX15B","s":10,"v":-0.1},{"g":"ALOX15B","s":11,"v":1},{"g":"ALOX15B","s":12,"v":1.5},{"g":"ALOX15B","s":13,"v":-0.55},
{"g":"SESN1","s":1,"v":-0.2},{"g":"SESN1","s":2,"v":-0.6},{"g":"SESN1","s":3,"v":-0.85},{"g":"SESN1","s":4,"v":-0.5},{"g":"SESN1","s":5,"v":-0.55},{"g":"SESN1","s":6,"v":-0.65},{"g":"SESN1","s":7,"v":2},{"g":"SESN1","s":8,"v":0.1},{"g":"SESN1","s":9,"v":-0.9},{"g":"SESN1","s":10,"v":0},{"g":"SESN1","s":11,"v":1.6},{"g":"SESN1","s":12,"v":1.7},{"g":"SESN1","s":13,"v":-0.55},
{"g":"MFGE8","s":1,"v":-0.6},{"g":"MFGE8","s":2,"v":-0.6},{"g":"MFGE8","s":3,"v":-0.6},{"g":"MFGE8","s":4,"v":-0.6},{"g":"MFGE8","s":5,"v":-0.6},{"g":"MFGE8","s":6,"v":-0.65},{"g":"MFGE8","s":7,"v":2.05},{"g":"MFGE8","s":8,"v":-0.1},{"g":"MFGE8","s":9,"v":-0.5},{"g":"MFGE8","s":10,"v":0.1},{"g":"MFGE8","s":11,"v":1.95},{"g":"MFGE8","s":12,"v":0.9},{"g":"MFGE8","s":13,"v":-0.55},
{"g":"ADAMTS2","s":1,"v":-0.7},{"g":"ADAMTS2","s":2,"v":-0.7},{"g":"ADAMTS2","s":3,"v":-0.7},{"g":"ADAMTS2","s":4,"v":-0.7},{"g":"ADAMTS2","s":5,"v":-0.7},{"g":"ADAMTS2","s":6,"v":-0.7},{"g":"ADAMTS2","s":7,"v":1.85},{"g":"ADAMTS2","s":8,"v":0.55},{"g":"ADAMTS2","s":9,"v":-0.55},{"g":"ADAMTS2","s":10,"v":-0.05},{"g":"ADAMTS2","s":11,"v":1.7},{"g":"ADAMTS2","s":12,"v":1.6},{"g":"ADAMTS2","s":13,"v":-0.55},
{"g":"ZBTB16","s":1,"v":-0.65},{"g":"ZBTB16","s":2,"v":-0.65},{"g":"ZBTB16","s":3,"v":-0.65},{"g":"ZBTB16","s":4,"v":-0.65},{"g":"ZBTB16","s":5,"v":-0.65},{"g":"ZBTB16","s":6,"v":-0.7},{"g":"ZBTB16","s":7,"v":2.1},{"g":"ZBTB16","s":8,"v":0.5},{"g":"ZBTB16","s":9,"v":-0.4},{"g":"ZBTB16","s":10,"v":-0.1},{"g":"ZBTB16","s":11,"v":1.65},{"g":"ZBTB16","s":12,"v":1.6},{"g":"ZBTB16","s":13,"v":-0.55},
{"g":"VWA8","s":1,"v":-0.5},{"g":"VWA8","s":2,"v":-1},{"g":"VWA8","s":3,"v":-1.25},{"g":"VWA8","s":4,"v":-0.5},{"g":"VWA8","s":5,"v":0},{"g":"VWA8","s":6,"v":-1.05},{"g":"VWA8","s":7,"v":1.3},{"g":"VWA8","s":8,"v":1},{"g":"VWA8","s":9,"v":-0.95},{"g":"VWA8","s":10,"v":0.6},{"g":"VWA8","s":11,"v":1.6},{"g":"VWA8","s":12,"v":1.6},{"g":"VWA8","s":13,"v":0.5},
{"g":"RUNX2","s":1,"v":-0.4},{"g":"RUNX2","s":2,"v":-0.65},{"g":"RUNX2","s":3,"v":-1.3},{"g":"RUNX2","s":4,"v":-0.3},{"g":"RUNX2","s":5,"v":-0.2},{"g":"RUNX2","s":6,"v":-1.05},{"g":"RUNX2","s":7,"v":0.2},{"g":"RUNX2","s":8,"v":1.4},{"g":"RUNX2","s":9,"v":-1.15},{"g":"RUNX2","s":10,"v":0.7},{"g":"RUNX2","s":11,"v":1.6},{"g":"RUNX2","s":12,"v":1.7},{"g":"RUNX2","s":13,"v":-0.5},
{"g":"LPL","s":1,"v":-0.6},{"g":"LPL","s":2,"v":-0.6},{"g":"LPL","s":3,"v":-0.6},{"g":"LPL","s":4,"v":-0.6},{"g":"LPL","s":5,"v":-0.6},{"g":"LPL","s":6,"v":-0.6},{"g":"LPL","s":7,"v":1.4},{"g":"LPL","s":8,"v":-0.05},{"g":"LPL","s":9,"v":-0.5},{"g":"LPL","s":10,"v":1.4},{"g":"LPL","s":11,"v":2.1},{"g":"LPL","s":12,"v":1.4},{"g":"LPL","s":13,"v":-0.55},
{"g":"OLFML2A","s":1,"v":-0.65},{"g":"OLFML2A","s":2,"v":-0.55},{"g":"OLFML2A","s":3,"v":-0.45},{"g":"OLFML2A","s":4,"v":-0.55},{"g":"OLFML2A","s":5,"v":-0.6},{"g":"OLFML2A","s":6,"v":-0.6},{"g":"OLFML2A","s":7,"v":1.3},{"g":"OLFML2A","s":8,"v":0.1},{"g":"OLFML2A","s":9,"v":-0.5},{"g":"OLFML2A","s":10,"v":1.3},{"g":"OLFML2A","s":11,"v":1.7},{"g":"OLFML2A","s":12,"v":2.5},{"g":"OLFML2A","s":13,"v":-0.5},
{"g":"MAOA","s":1,"v":-0.55},{"g":"MAOA","s":2,"v":-0.55},{"g":"MAOA","s":3,"v":-0.55},{"g":"MAOA","s":4,"v":-0.55},{"g":"MAOA","s":5,"v":-0.6},{"g":"MAOA","s":6,"v":-0.6},{"g":"MAOA","s":7,"v":0.8},{"g":"MAOA","s":8,"v":1.6},{"g":"MAOA","s":9,"v":-0.5},{"g":"MAOA","s":10,"v":1.2},{"g":"MAOA","s":11,"v":2.1},{"g":"MAOA","s":12,"v":1.35},{"g":"MAOA","s":13,"v":-0.55}]},
"mark":{"type":"rect","stroke":"#979c9e","strokeWidth":1.2},"encoding":{"x":{"field":"s","type":"ordinal","axis":null,"scale":{"padding":0}},"y":{"field":"g","type":"nominal","sort":null,"scale":{"padding":0},"axis":{"orient":"right"}},"fill":{"field":"v","type":"quantitative","scale":{"domain":[-1.447,-0.65,0.147,0.944,1.74,2.54,3.335],"range":["#3f71a9","#84b7d3","#d0e9ec","#eef3ae","#f7d07e","#fa8c5c","#d33a36"],"interpolate":"rgb"},"legend":{"orient":"none","legendX":207,"legendY":-32,"title":null,"gradientLength":286,"gradientThickness":19,"values":[-1,0,1,2,3],"labelFontSize":9.3,"labelOffset":7,"gradientStrokeWidth":0}}}},
{"width":167,"height":11,"data":{"name":"blank"},"mark":{"type":"rule","opacity":0},"encoding":{}},
{"width":110,"height":219,"data":{"values":[
{"h":0.3,"y1":0.5,"c1":0,"y2":1.5,"c2":0},{"h":15,"y1":4.5,"c1":0,"y2":5.5,"c2":0},{"h":20,"y1":3.5,"c1":0,"y2":5,"c2":15},{"h":42.4,"y1":2.5,"c1":0,"y2":4.25,"c2":20},{"h":51.4,"y1":1,"c1":0.3,"y2":3.375,"c2":42.4},{"h":24.7,"y1":7.5,"c1":0,"y2":8.5,"c2":0},{"h":32.4,"y1":6.5,"c1":0,"y2":8,"c2":24.7},{"h":9.7,"y1":10.5,"c1":0,"y2":11.5,"c2":0},{"h":4.7,"y1":12.5,"c1":0,"y2":13.5,"c2":0},{"h":10.7,"y1":14.5,"c1":0,"y2":15.5,"c2":0},{"h":25,"y1":13,"c1":4.7,"y2":15,"c2":10.7},{"h":30.4,"y1":11,"c1":9.7,"y2":14,"c2":25},{"h":41.4,"y1":9.5,"c1":0,"y2":12.5,"c2":30.4},{"h":54.7,"y1":7.25,"c1":32.4,"y2":11,"c2":41.4},{"h":0.5,"y1":21.5,"c1":0,"y2":22.5,"c2":0},{"h":1.2,"y1":20.5,"c1":0,"y2":22,"c2":0.5},{"h":8.4,"y1":19.5,"c1":0,"y2":21.25,"c2":1.2},{"h":21.4,"y1":18.5,"c1":0,"y2":20.4,"c2":8.4},{"h":30,"y1":17.5,"c1":0,"y2":19.45,"c2":21.4},{"h":63,"y1":16.5,"c1":0,"y2":18.48,"c2":30},{"h":83.4,"y1":9.125,"c1":54.7,"y2":17.49,"c2":63},{"h":99.7,"y1":2.19,"c1":51.4,"y2":13.3,"c2":83.4}]},
"layer":[{"mark":{"type":"rule","color":"#2b2a2c","strokeWidth":1.8,"strokeCap":"square"},"encoding":{"x":{"field":"h","type":"quantitative","scale":{"domain":[110,0]},"axis":null},"y":{"field":"y1","type":"quantitative","scale":{"domain":[23,0]},"axis":null},"y2":{"field":"y2"}}},{"mark":{"type":"rule","color":"#2b2a2c","strokeWidth":1.8,"strokeCap":"square"},"encoding":{"x":{"field":"h","type":"quantitative","scale":{"domain":[110,0]},"axis":null},"x2":{"field":"c1"},"y":{"field":"y1","type":"quantitative","scale":{"domain":[23,0]},"axis":null}}},{"mark":{"type":"rule","color":"#2b2a2c","strokeWidth":1.8,"strokeCap":"square"},"encoding":{"x":{"field":"h","type":"quantitative","scale":{"domain":[110,0]},"axis":null},"x2":{"field":"c2"},"y":{"field":"y2","type":"quantitative","scale":{"domain":[23,0]},"axis":null}}}]},
{"width":77,"height":219,"data":{"values":[
{"g":"MTHFS","s":1,"v":-0.5},{"g":"MTHFS","s":2,"v":-0.45},{"g":"MTHFS","s":3,"v":2.45},{"g":"MTHFS","s":4,"v":-0.45},{"g":"MTHFS","s":5,"v":-0.4},{"g":"MTHFS","s":6,"v":-0.45},{"g":"MTHFS","s":7,"v":-0.4},{"g":"MTHFS","s":8,"v":-0.35},
{"g":"ABCF1","s":1,"v":-0.45},{"g":"ABCF1","s":2,"v":-0.45},{"g":"ABCF1","s":3,"v":2.45},{"g":"ABCF1","s":4,"v":-0.35},{"g":"ABCF1","s":5,"v":-0.35},{"g":"ABCF1","s":6,"v":-0.3},{"g":"ABCF1","s":7,"v":-0.3},{"g":"ABCF1","s":8,"v":-0.25},
{"g":"TRIB3","s":1,"v":1.1},{"g":"TRIB3","s":2,"v":-0.5},{"g":"TRIB3","s":3,"v":1.6},{"g":"TRIB3","s":4,"v":0.7},{"g":"TRIB3","s":5,"v":-0.75},{"g":"TRIB3","s":6,"v":-0.75},{"g":"TRIB3","s":7,"v":-0.2},{"g":"TRIB3","s":8,"v":-0.9},
{"g":"MAP3K10","s":1,"v":-0.3},{"g":"MAP3K10","s":2,"v":0.25},{"g":"MAP3K10","s":3,"v":1.55},{"g":"MAP3K10","s":4,"v":1.15},{"g":"MAP3K10","s":5,"v":-0.55},{"g":"MAP3K10","s":6,"v":-0.65},{"g":"MAP3K10","s":7,"v":-0.55},{"g":"MAP3K10","s":8,"v":-1.05},
{"g":"PGPEP1","s":1,"v":-0.05},{"g":"PGPEP1","s":2,"v":-0.4},{"g":"PGPEP1","s":3,"v":1.3},{"g":"PGPEP1","s":4,"v":1.7},{"g":"PGPEP1","s":5,"v":-0.55},{"g":"PGPEP1","s":6,"v":-0.7},{"g":"PGPEP1","s":7,"v":-0.5},{"g":"PGPEP1","s":8,"v":-0.7},
{"g":"PCBD2","s":1,"v":-0.6},{"g":"PCBD2","s":2,"v":-0.3},{"g":"PCBD2","s":3,"v":1.55},{"g":"PCBD2","s":4,"v":1.7},{"g":"PCBD2","s":5,"v":-0.4},{"g":"PCBD2","s":6,"v":-0.5},{"g":"PCBD2","s":7,"v":-0.65},{"g":"PCBD2","s":8,"v":-0.65},
{"g":"ZNF107","s":1,"v":-1.1},{"g":"ZNF107","s":2,"v":-0.9},{"g":"ZNF107","s":3,"v":-0.3},{"g":"ZNF107","s":4,"v":-0.05},{"g":"ZNF107","s":5,"v":-0.75},{"g":"ZNF107","s":6,"v":0.7},{"g":"ZNF107","s":7,"v":1.1},{"g":"ZNF107","s":8,"v":1.55},
{"g":"SNX6","s":1,"v":-1.15},{"g":"SNX6","s":2,"v":-0.7},{"g":"SNX6","s":3,"v":-0.5},{"g":"SNX6","s":4,"v":-0.05},{"g":"SNX6","s":5,"v":-0.15},{"g":"SNX6","s":6,"v":1.05},{"g":"SNX6","s":7,"v":-0.15},{"g":"SNX6","s":8,"v":1.65},
{"g":"HECW2","s":1,"v":-1},{"g":"HECW2","s":2,"v":-0.5},{"g":"HECW2","s":3,"v":-0.7},{"g":"HECW2","s":4,"v":-0.7},{"g":"HECW2","s":5,"v":-0.3},{"g":"HECW2","s":6,"v":1.5},{"g":"HECW2","s":7,"v":0.7},{"g":"HECW2","s":8,"v":1.25},
{"g":"HLA−DRB3","s":1,"v":-0.85},{"g":"HLA−DRB3","s":2,"v":0.3},{"g":"HLA−DRB3","s":3,"v":-0.9},{"g":"HLA−DRB3","s":4,"v":-0.9},{"g":"HLA−DRB3","s":5,"v":0.85},{"g":"HLA−DRB3","s":6,"v":-0.5},{"g":"HLA−DRB3","s":7,"v":0.25},{"g":"HLA−DRB3","s":8,"v":2},
{"g":"GJA1","s":1,"v":-0.5},{"g":"GJA1","s":2,"v":-0.4},{"g":"GJA1","s":3,"v":-0.4},{"g":"GJA1","s":4,"v":-0.45},{"g":"GJA1","s":5,"v":-0.25},{"g":"GJA1","s":6,"v":-0.2},{"g":"GJA1","s":7,"v":0.05},{"g":"GJA1","s":8,"v":2.4},
{"g":"E2F6P1","s":1,"v":-0.35},{"g":"E2F6P1","s":2,"v":-0.35},{"g":"E2F6P1","s":3,"v":-0.35},{"g":"E2F6P1","s":4,"v":-0.35},{"g":"E2F6P1","s":5,"v":-0.3},{"g":"E2F6P1","s":6,"v":-0.3},{"g":"E2F6P1","s":7,"v":-0.25},{"g":"E2F6P1","s":8,"v":2.45},
{"g":"USP17L1","s":1,"v":-0.6},{"g":"USP17L1","s":2,"v":-0.7},{"g":"USP17L1","s":3,"v":-0.6},{"g":"USP17L1","s":4,"v":-0.6},{"g":"USP17L1","s":5,"v":-0.5},{"g":"USP17L1","s":6,"v":0.7},{"g":"USP17L1","s":7,"v":0.2},{"g":"USP17L1","s":8,"v":2.3},
{"g":"TAS2R43","s":1,"v":-0.55},{"g":"TAS2R43","s":2,"v":-0.55},{"g":"TAS2R43","s":3,"v":-0.55},{"g":"TAS2R43","s":4,"v":-0.6},{"g":"TAS2R43","s":5,"v":-0.5},{"g":"TAS2R43","s":6,"v":0.55},{"g":"TAS2R43","s":7,"v":0.25},{"g":"TAS2R43","s":8,"v":2.25},
{"g":"ABCG1","s":1,"v":-0.8},{"g":"ABCG1","s":2,"v":-0.5},{"g":"ABCG1","s":3,"v":-0.5},{"g":"ABCG1","s":4,"v":-0.2},{"g":"ABCG1","s":5,"v":-0.5},{"g":"ABCG1","s":6,"v":0},{"g":"ABCG1","s":7,"v":0.8},{"g":"ABCG1","s":8,"v":2.25},
{"g":"MAOA","s":1,"v":-0.55},{"g":"MAOA","s":2,"v":-0.55},{"g":"MAOA","s":3,"v":-0.55},{"g":"MAOA","s":4,"v":-0.55},{"g":"MAOA","s":5,"v":-0.55},{"g":"MAOA","s":6,"v":-0.2},{"g":"MAOA","s":7,"v":1.1},{"g":"MAOA","s":8,"v":2},
{"g":"EXOC8","s":1,"v":-0.5},{"g":"EXOC8","s":2,"v":-0.5},{"g":"EXOC8","s":3,"v":-0.5},{"g":"EXOC8","s":4,"v":-0.5},{"g":"EXOC8","s":5,"v":-0.55},{"g":"EXOC8","s":6,"v":1.15},{"g":"EXOC8","s":7,"v":2.1},{"g":"EXOC8","s":8,"v":-0.55},
{"g":"LIPN","s":1,"v":-1.1},{"g":"LIPN","s":2,"v":-0.75},{"g":"LIPN","s":3,"v":-0.3},{"g":"LIPN","s":4,"v":-0.3},{"g":"LIPN","s":5,"v":1.1},{"g":"LIPN","s":6,"v":1.75},{"g":"LIPN","s":7,"v":-0.25},{"g":"LIPN","s":8,"v":0.05},
{"g":"TMEM71","s":1,"v":-0.95},{"g":"TMEM71","s":2,"v":-0.5},{"g":"TMEM71","s":3,"v":-0.35},{"g":"TMEM71","s":4,"v":0},{"g":"TMEM71","s":5,"v":-0.1},{"g":"TMEM71","s":6,"v":2.4},{"g":"TMEM71","s":7,"v":0.1},{"g":"TMEM71","s":8,"v":-0.15},
{"g":"DNAJC25−GNG10","s":1,"v":-0.5},{"g":"DNAJC25−GNG10","s":2,"v":-0.5},{"g":"DNAJC25−GNG10","s":3,"v":-0.5},{"g":"DNAJC25−GNG10","s":4,"v":-0.5},{"g":"DNAJC25−GNG10","s":5,"v":0.35},{"g":"DNAJC25−GNG10","s":6,"v":2.45},{"g":"DNAJC25−GNG10","s":7,"v":0},{"g":"DNAJC25−GNG10","s":8,"v":-0.45},
{"g":"USP17L19","s":1,"v":-0.5},{"g":"USP17L19","s":2,"v":-0.5},{"g":"USP17L19","s":3,"v":-0.5},{"g":"USP17L19","s":4,"v":-0.5},{"g":"USP17L19","s":5,"v":0.55},{"g":"USP17L19","s":6,"v":2.45},{"g":"USP17L19","s":7,"v":-0.4},{"g":"USP17L19","s":8,"v":-0.4},
{"g":"USP17L5","s":1,"v":-0.5},{"g":"USP17L5","s":2,"v":-0.5},{"g":"USP17L5","s":3,"v":-0.5},{"g":"USP17L5","s":4,"v":-0.5},{"g":"USP17L5","s":5,"v":0.55},{"g":"USP17L5","s":6,"v":2.45},{"g":"USP17L5","s":7,"v":-0.4},{"g":"USP17L5","s":8,"v":-0.4},
{"g":"USP17L24","s":1,"v":-0.5},{"g":"USP17L24","s":2,"v":-0.5},{"g":"USP17L24","s":3,"v":-0.5},{"g":"USP17L24","s":4,"v":-0.5},{"g":"USP17L24","s":5,"v":0.6},{"g":"USP17L24","s":6,"v":2.45},{"g":"USP17L24","s":7,"v":-0.4},{"g":"USP17L24","s":8,"v":-0.4}]},
"mark":{"type":"rect","stroke":"#979c9e","strokeWidth":1.2},"encoding":{"x":{"field":"s","type":"ordinal","axis":null,"scale":{"padding":0}},"y":{"field":"g","type":"nominal","sort":null,"scale":{"padding":0},"axis":{"orient":"right"}},"fill":{"field":"v","type":"quantitative","scale":{"domain":[-1.225,-0.604,0.017,0.638,1.258,1.879,2.5],"range":["#3f71a9","#84b7d3","#d0e9ec","#eef3ae","#f7d07e","#fa8c5c","#d33a36"],"interpolate":"rgb"},"legend":{"orient":"none","legendX":174,"legendY":-32,"title":null,"gradientLength":286,"gradientThickness":19,"values":[-1,-0.5,0,0.5,1,1.5,2],"labelFontSize":9.3,"labelOffset":7,"gradientStrokeWidth":0}}}}
]}]}
